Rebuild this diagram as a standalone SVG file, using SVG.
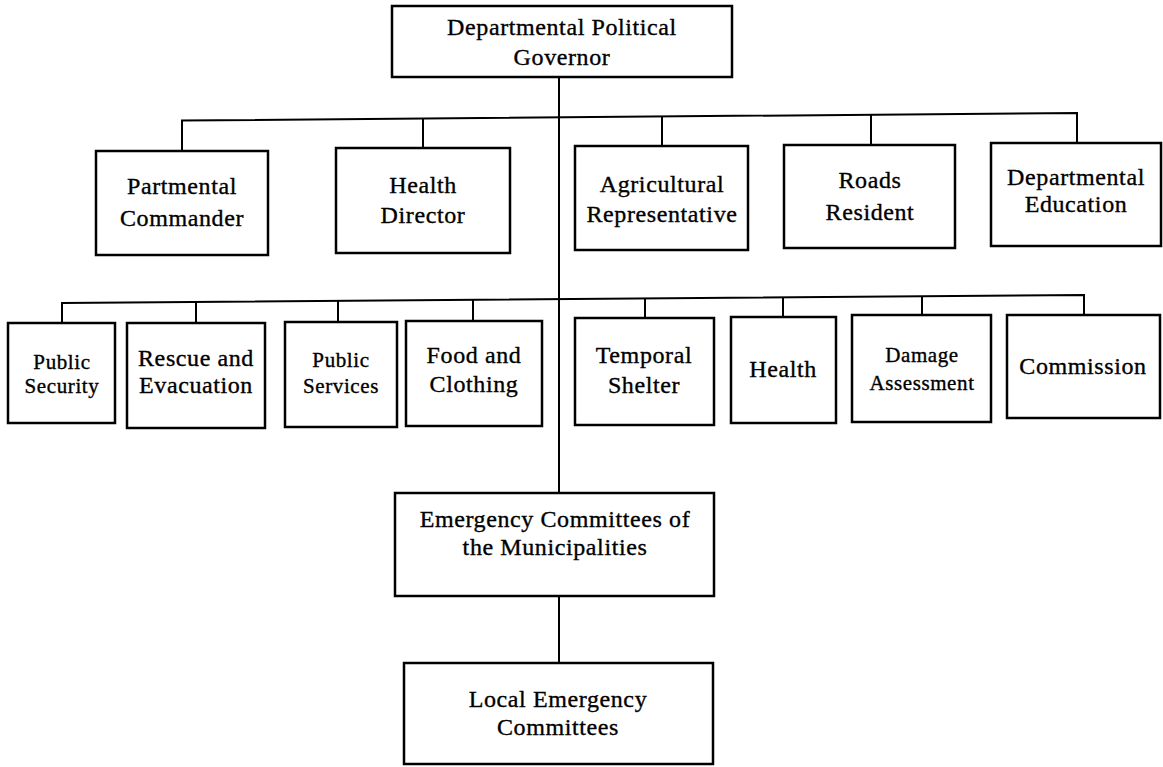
<svg xmlns="http://www.w3.org/2000/svg" width="1163" height="767" viewBox="0 0 1163 767">
  <style>
    .box { fill: #ffffff; stroke: #000000; stroke-width: 2.5; }
    .lbl { font-family: "Liberation Serif", "Times New Roman", serif; font-size: 24px; letter-spacing: 0.6px; fill: #000000; stroke: #000000; stroke-width: 0.35; text-anchor: middle; }
    .sm { font-size: 21px; }
    .wire { fill: none; stroke: #000000; stroke-width: 2; }
  </style>
  <rect width="1163" height="767" fill="#ffffff"/>

  <!-- connectors -->
  <g id="connectors" class="wire">
    <!-- main trunk -->
    <line x1="559" y1="77" x2="559" y2="493"/>
    <line x1="559" y1="596" x2="559" y2="663"/>
    <!-- first tier bus and drops -->
    <polyline points="182,151 182,120.5 1077,113 1077,143"/>
    <line x1="423" y1="118.5" x2="423" y2="148"/>
    <line x1="662" y1="116.5" x2="662" y2="146"/>
    <line x1="871" y1="114.7" x2="871" y2="145"/>
    <!-- second tier bus and drops -->
    <polyline points="62,323 62,303 1084,295 1084,315"/>
    <line x1="196" y1="302" x2="196" y2="323"/>
    <line x1="338" y1="300.8" x2="338" y2="322"/>
    <line x1="473" y1="299.8" x2="473" y2="321"/>
    <line x1="645" y1="298.4" x2="645" y2="318"/>
    <line x1="783" y1="297.4" x2="783" y2="317"/>
    <line x1="922" y1="296.3" x2="922" y2="315"/>
  </g>

  <!-- top -->
  <g id="governor">
    <rect class="box" x="392" y="6" width="340" height="71"/>
    <text class="lbl" x="562" y="35">Departmental Political</text>
    <text class="lbl" x="562" y="65">Governor</text>
  </g>

  <!-- first tier -->
  <g id="commander">
    <rect class="box" x="96" y="151" width="172" height="104"/>
    <text class="lbl" x="182" y="194">Partmental</text>
    <text class="lbl" x="182" y="226">Commander</text>
  </g>
  <g id="health-director">
    <rect class="box" x="336" y="148" width="174" height="105"/>
    <text class="lbl" x="423" y="193">Health</text>
    <text class="lbl" x="423" y="223">Director</text>
  </g>
  <g id="agricultural">
    <rect class="box" x="575" y="146" width="173" height="104"/>
    <text class="lbl" x="662" y="192">Agricultural</text>
    <text class="lbl" x="662" y="222">Representative</text>
  </g>
  <g id="roads">
    <rect class="box" x="784" y="145" width="171" height="103"/>
    <text class="lbl" x="870" y="188">Roads</text>
    <text class="lbl" x="870" y="220">Resident</text>
  </g>
  <g id="education">
    <rect class="box" x="991" y="143" width="170" height="103"/>
    <text class="lbl" x="1076" y="185">Departmental</text>
    <text class="lbl" x="1076" y="212">Education</text>
  </g>

  <!-- second tier -->
  <g id="public-security">
    <rect class="box" x="8" y="323" width="107" height="100"/>
    <text class="lbl sm" x="62" y="369">Public</text>
    <text class="lbl sm" x="62" y="393">Security</text>
  </g>
  <g id="rescue">
    <rect class="box" x="127" y="323" width="138" height="105"/>
    <text class="lbl" x="196" y="366">Rescue and</text>
    <text class="lbl" x="196" y="393">Evacuation</text>
  </g>
  <g id="public-services">
    <rect class="box" x="285" y="322" width="112" height="105"/>
    <text class="lbl sm" x="341" y="367">Public</text>
    <text class="lbl sm" x="341" y="393">Services</text>
  </g>
  <g id="food">
    <rect class="box" x="406" y="321" width="136" height="105"/>
    <text class="lbl" x="474" y="363">Food and</text>
    <text class="lbl" x="474" y="392">Clothing</text>
  </g>
  <g id="shelter">
    <rect class="box" x="575" y="318" width="139" height="107"/>
    <text class="lbl" x="644" y="363">Temporal</text>
    <text class="lbl" x="644" y="393">Shelter</text>
  </g>
  <g id="health">
    <rect class="box" x="731" y="317" width="105" height="106"/>
    <text class="lbl" x="783" y="377">Health</text>
  </g>
  <g id="damage">
    <rect class="box" x="852" y="315" width="139" height="107"/>
    <text class="lbl sm" x="922" y="362">Damage</text>
    <text class="lbl sm" x="922" y="390">Assessment</text>
  </g>
  <g id="commission">
    <rect class="box" x="1007" y="315" width="153" height="103"/>
    <text class="lbl" x="1083" y="374">Commission</text>
  </g>

  <!-- lower levels -->
  <g id="municipal">
    <rect class="box" x="395" y="493" width="319" height="103"/>
    <text class="lbl" x="555" y="527">Emergency Committees of</text>
    <text class="lbl" x="555" y="555">the Municipalities</text>
  </g>
  <g id="local">
    <rect class="box" x="404" y="663" width="309" height="101"/>
    <text class="lbl" x="558" y="707">Local Emergency</text>
    <text class="lbl" x="558" y="735">Committees</text>
  </g>
</svg>
